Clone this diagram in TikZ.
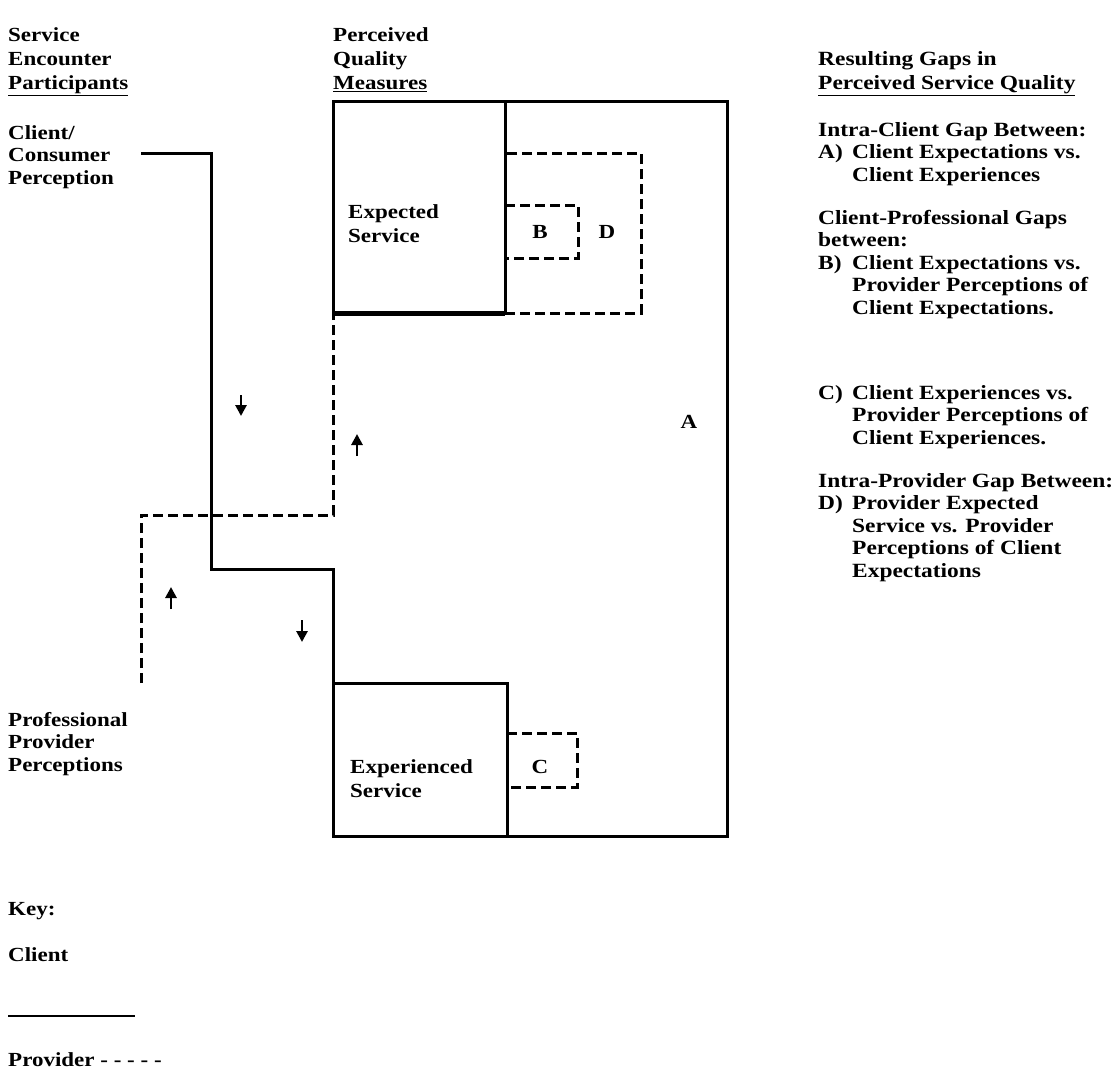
\documentclass[tikz,border=0pt]{standalone}
\usepackage{fontspec}
\setmainfont{Liberation Serif}[FakeStretch=1.15]
\newfontfamily\rcolfont{Liberation Serif}[FakeStretch=1.16]
\usetikzlibrary{arrows.meta}
\begin{document}
\begin{tikzpicture}[x=1pt,y=-1pt,
  txt/.style={anchor=north west, inner sep=0pt, align=left, font=\fontsize{20}{22.5}\selectfont\bfseries},
  rtxt/.style={anchor=north west, inner sep=0pt, align=left, font=\rcolfont\fontsize{20.2}{22.5}\selectfont\bfseries},
  hdr/.style={anchor=north west, inner sep=0pt, align=left, font=\fontsize{20}{24}\selectfont\bfseries},
  lbl/.style={inner sep=0pt, font=\fontsize{20}{22}\selectfont\bfseries},
  solidln/.style={line width=3pt, line cap=rect, line join=miter},
  provln/.style={line width=3pt, dash pattern=on 10pt off 5pt, line join=miter},
  arr/.style={line width=2.8pt, -{Triangle[length=11pt,width=11pt]}}]
\useasboundingbox (0,0) rectangle (1120,1076);

% headers
\node[hdr] (hdrL) at (8,27) {Service\\Encounter\\\underline{Participants}};
\node[hdr] (hdrM) at (333,27) {Perceived\\Quality\\\underline{Measures}};
\node[rtxt, font=\rcolfont\fontsize{20.2}{24}\selectfont\bfseries] (hdrR) at (818,51) {Resulting Gaps in\\\underline{Perceived Service Quality}};

% participants
\node[txt] (client) at (8,125) {Client/\\Consumer\\Perception};
\node[txt] (prof) at (8,712) {Professional\\Provider\\Perceptions};

% right column
\node[rtxt] (gapA) at (818,122) {Intra-Client Gap Between:\\\makebox[34pt][l]{A)}Client Expectations vs.\\\hspace*{34pt}Client Experiences};
\node[rtxt] (gapB) at (818,210) {Client-Professional Gaps\\between:\\\makebox[34pt][l]{B)}Client Expectations vs.\\\hspace*{34pt}Provider Perceptions of\\\hspace*{34pt}Client Expectations.};
\node[rtxt] (gapC) at (818,385) {\makebox[34pt][l]{C)}Client Experiences vs.\\\hspace*{34pt}Provider Perceptions of\\\hspace*{34pt}Client Experiences.};
\node[rtxt] (gapD) at (818,473) {Intra-Provider Gap Between:\\\makebox[34pt][l]{D)}Provider Expected\\\hspace*{34pt}Service vs. Provider\\\hspace*{34pt}Perceptions of Client\\\hspace*{34pt}Expectations};

% big box A
\coordinate (Atl) at (333,101);
\coordinate (Atr) at (727,101);
\coordinate (Abr) at (727,836);
\coordinate (Abl) at (333,836);
\draw[solidln] (Atl) -- (Atr) -- (Abr) -- (Abl);
\node[lbl] (labA) at (689,422) {A};

% expected service box
\coordinate (Etl) at (333,101);
\coordinate (Ebr) at (505,313);
\coordinate (Ebl) at (333,313);
\draw[solidln] (Etl) rectangle (Ebr);
\draw[line width=5pt] (Ebl) -- (Ebr);
\node[txt, font=\fontsize{20}{24}\selectfont\bfseries] (expT) at (348,204) {Expected\\Service};

% experienced service box
\coordinate (Xtl) at (333,683);
\coordinate (Xtr) at (507,683);
\coordinate (Xbr) at (507,836);
\draw[solidln] (Xtl) rectangle (Xbr);
\node[txt, font=\fontsize{20}{24}\selectfont\bfseries] (expdT) at (350,759) {Experienced\\Service};

% dashed gap boxes
\coordinate (Dtl) at (505,153);
\draw[provln] (Ebr) -| (641,153) -- (Dtl);
\node[lbl] (labD) at (607,232) {D};
\coordinate (Btl) at (505,205);
\draw[provln] (Btl) -| (578,258) -- (505,258);
\node[lbl] (labB) at (540,232) {B};
\coordinate (Ctl) at (507,733);
\draw[provln] (Ctl) -| (577,787) -- (507,787);
\node[lbl] (labC) at (540,767) {C};

% client (solid) path
\coordinate (cs) at (142,153);
\draw[solidln] (cs) -| (211,569) -| (Xtl) -- (Xtr);

% provider (dashed) path
\coordinate (ps) at (141,683);
\draw[provln] (ps) |- (333,515) |- (Ebr);

% direction arrows
\coordinate (a1s) at (241,395); \coordinate (a1e) at (241,416);
\draw[arr] (a1s) -- (a1e);
\coordinate (a2s) at (357,456); \coordinate (a2e) at (357,434);
\draw[arr] (a2s) -- (a2e);
\coordinate (a3s) at (171,609); \coordinate (a3e) at (171,587);
\draw[arr] (a3s) -- (a3e);
\coordinate (a4s) at (302,620); \coordinate (a4e) at (302,642);
\draw[arr] (a4s) -- (a4e);

% key
\node[txt] (key) at (8,902) {Key:};
\node[txt] (keyC) at (8,947) {Client};
\coordinate (k1) at (8,1016); \coordinate (k2) at (135,1016);
\draw[line width=2.2pt] (k1) -- (k2);
\node[txt] (keyP) at (8,1052) {Provider - - - - -};
\end{tikzpicture}
\end{document}
